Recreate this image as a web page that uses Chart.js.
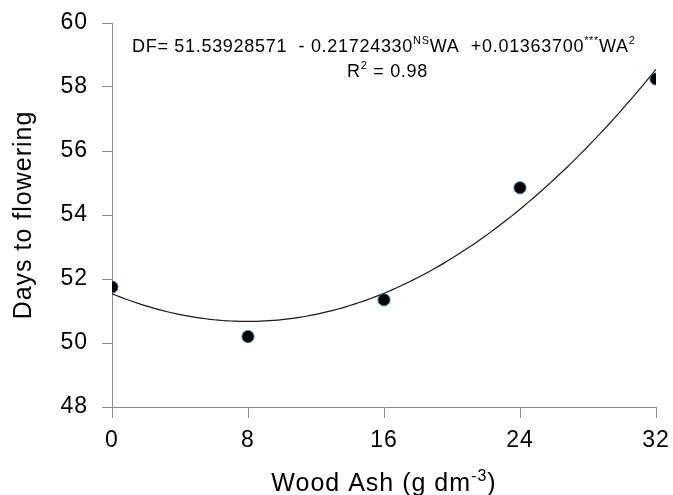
<!DOCTYPE html>
<html>
<head>
<meta charset="utf-8">
<script src="https://cdn.jsdelivr.net/npm/chart.js@4/dist/chart.umd.min.js"></script>
<style>
  html, body { margin: 0; padding: 0; background: #fff; }
  #wrap { width: 673px; height: 495px; }
</style>
</head>
<body>
<div id="wrap"><canvas id="df-chart" width="673" height="495"></canvas></div>
<script>
// observed days to flowering for each wood ash dose
var woodAsh = [0, 8, 16, 24, 32];
var daysToFlowering = [51.75, 50.2, 51.35, 54.85, 58.25];

// quadratic fit DF = b0 + b1*WA + b2*WA^2
var fitCoef = [51.53928571, -0.21724330, 0.01363700];
var fitR2 = '0.98';

var xTicks = [0, 8, 16, 24, 32];
var yTicks = [48, 50, 52, 54, 56, 58, 60];

var FONT = 'Arial, "Liberation Sans", sans-serif';
var AXIS_GREY = '#8c8c8c';

// fitted curve, sampled along the x range
var fitPoints = [];
for (var wa = xTicks[0]; wa <= xTicks[xTicks.length - 1] + 1e-9; wa += 0.25) {
    fitPoints.push({ x: wa, y: fitCoef[0] + fitCoef[1] * wa + fitCoef[2] * wa * wa });
}

var observed = woodAsh.map(function (x, i) { return { x: x, y: daysToFlowering[i] }; });

// draws a run of text pieces, some of them raised as superscripts
function drawRich(ctx, x, y, parts, size) {
    ctx.textBaseline = 'alphabetic';
    ctx.textAlign = 'left';
    parts.forEach(function (p) {
        var s = p.sup ? Math.round(size * 0.62) : size;
        ctx.font = s + 'px ' + FONT;
        ctx.fillText(p.t, x, p.sup ? y - size * 0.42 : y);
        x += ctx.measureText(p.t).width;
    });
}

function richWidth(ctx, parts, size) {
    var w = 0;
    parts.forEach(function (p) {
        ctx.font = (p.sup ? Math.round(size * 0.62) : size) + 'px ' + FONT;
        w += ctx.measureText(p.t).width;
    });
    return w;
}

var annotations = {
    id: 'annotations',
    beforeDraw: function (chart) {
        // slightly looser text, like the original plotting software
        chart.ctx.letterSpacing = '1px';
    },
    afterDraw: function (chart) {
        var ctx = chart.ctx;
        var area = chart.chartArea;
        ctx.save();
        ctx.fillStyle = '#000';

        // regression equation and R²
        ctx.letterSpacing = '0.7px';
        drawRich(ctx, 132, 52, [
            { t: 'DF= ' + fitCoef[0].toFixed(8) + '  - ' + Math.abs(fitCoef[1]).toFixed(8) },
            { t: 'NS', sup: true },
            { t: 'WA  +' + fitCoef[2].toFixed(8) },
            { t: '***', sup: true },
            { t: 'WA' },
            { t: '2', sup: true }
        ], 18);
        drawRich(ctx, 347, 77, [
            { t: 'R' },
            { t: '2', sup: true },
            { t: ' = ' + fitR2 }
        ], 18);

        // x axis title with the exponent on dm
        ctx.letterSpacing = '1px';
        var parts = [
            { t: 'Wood Ash (g dm' },
            { t: '-3', sup: true },
            { t: ')' }
        ];
        var w = richWidth(ctx, parts, 25);
        drawRich(ctx, (area.left + area.right) / 2 - w / 2, 491, parts, 25);
        ctx.restore();
    }
};

var ctx = document.getElementById('df-chart');
var dfChart = new Chart(ctx, {
    type: 'scatter',
    data: {
        datasets: [{
            data: observed,
            pointRadius: 6,
            pointHoverRadius: 6,
            pointBackgroundColor: '#000',
            pointBorderColor: '#2f6191',
            pointBorderWidth: 1,
            showLine: false
        }, {
            type: 'line',
            data: fitPoints,
            borderColor: '#1a1a1a',
            borderWidth: 1.2,
            pointRadius: 0,
            fill: false,
            tension: 0
        }]
    },
    plugins: [annotations],
    options: {
        responsive: false,
        animation: false,
        events: [],
        layout: {
            padding: { top: 23, right: 17, bottom: 0, left: 0 }
        },
        plugins: {
            legend: { display: false },
            tooltip: { enabled: false }
        },
        scales: {
            x: {
                type: 'linear',
                min: xTicks[0],
                max: xTicks[xTicks.length - 1],
                afterFit: function (scale) {
                    scale.height = 88;
                    scale.paddingLeft = 0;
                    scale.paddingRight = 0;
                },
                afterBuildTicks: function (scale) {
                    scale.ticks = xTicks.map(function (v) { return { value: v }; });
                },
                border: { display: true, color: AXIS_GREY, width: 1 },
                grid: {
                    drawOnChartArea: false,
                    drawTicks: true,
                    tickLength: 11,
                    color: AXIS_GREY
                },
                ticks: {
                    padding: 9,
                    color: '#000',
                    font: { family: FONT, size: 23 }
                }
            },
            y: {
                min: yTicks[0],
                max: yTicks[yTicks.length - 1],
                afterFit: function (scale) {
                    scale.width = 112;
                    scale.paddingTop = 0;
                    scale.paddingBottom = 0;
                },
                afterBuildTicks: function (scale) {
                    scale.ticks = yTicks.map(function (v) { return { value: v }; });
                },
                border: { display: true, color: AXIS_GREY, width: 1 },
                grid: {
                    drawOnChartArea: false,
                    drawTicks: true,
                    tickLength: 10,
                    color: AXIS_GREY
                },
                ticks: {
                    padding: 14,
                    color: '#000',
                    font: { family: FONT, size: 23 }
                },
                title: {
                    display: true,
                    text: 'Days to flowering',
                    color: '#000',
                    font: { family: FONT, size: 25 },
                    padding: { top: 9, bottom: 0 }
                }
            }
        }
    }
});
</script>
</body>
</html>
